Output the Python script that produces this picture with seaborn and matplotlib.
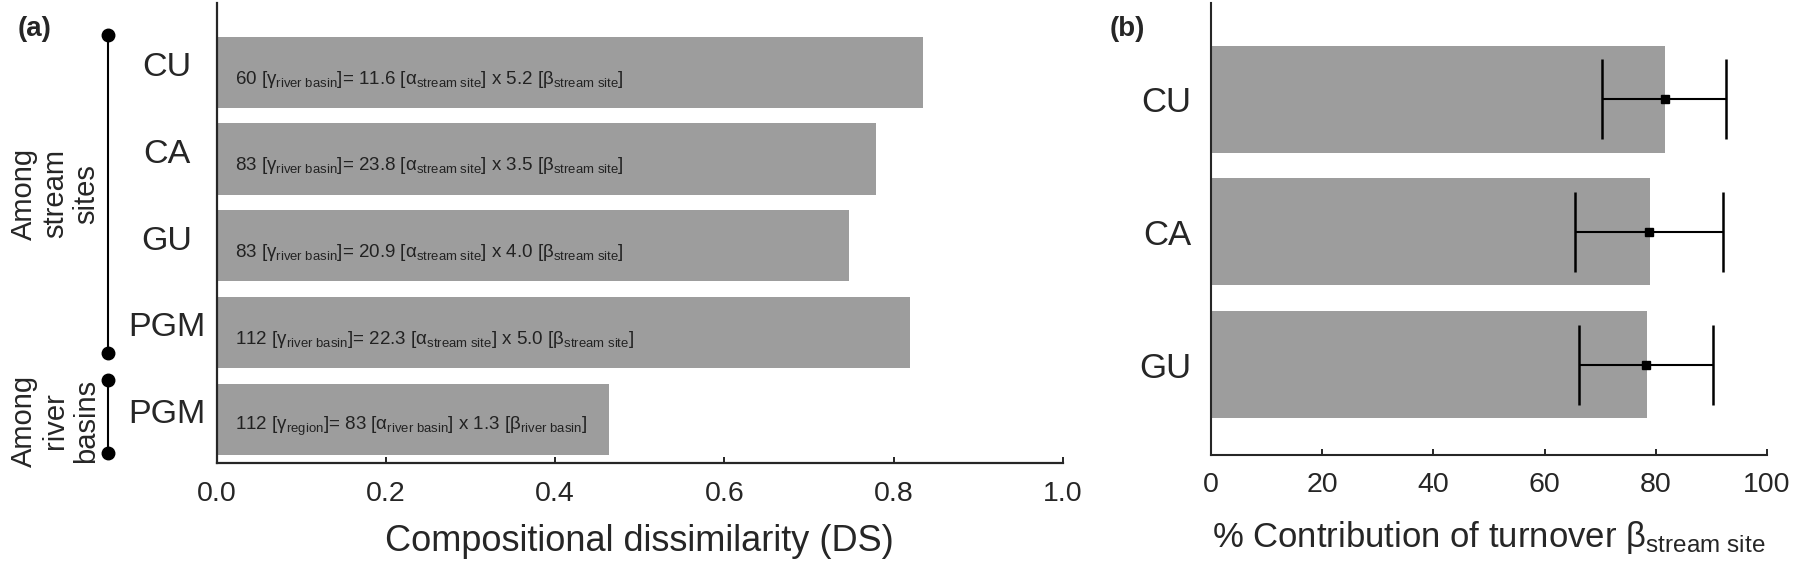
import matplotlib
matplotlib.use("Agg")
import matplotlib.pyplot as plt
import matplotlib.font_manager as fm
from matplotlib.transforms import ScaledTranslation, blended_transform_factory
import seaborn as sns
import pandas as pd
import numpy as np

# ---------------- data ----------------
cats_a = ["CU", "CA", "GU", "PGM", "PGM"]
ds_values = [0.834, 0.779, 0.747, 0.819, 0.463]
gamma_vals = ["60", "83", "83", "112", "112"]
alpha_vals = ["11.6", "23.8", "20.9", "22.3", "83"]
beta_vals = ["5.2", "3.5", "4.0", "5.0", "1.3"]
gamma_sub = ["river basin", "river basin", "river basin", "river basin", "region"]
ab_sub = ["stream site", "stream site", "stream site", "stream site", "river basin"]

cats_b = ["CU", "CA", "GU"]
turnover = [81.6, 79.0, 78.5]
turn_mean = [81.6, 78.7, 78.3]
ci_low = [70.4, 65.5, 66.1]
ci_high = [92.6, 92.0, 90.3]

xticks_a = [0.0, 0.2, 0.4, 0.6, 0.8, 1.0]
xticks_b = [0, 20, 40, 60, 80, 100]

# ---------------- style ----------------
sns.set_style("ticks")
names = {f.name for f in fm.fontManager.ttflist}
MAIN = "Liberation Sans" if "Liberation Sans" in names else "DejaVu Sans"
NARROW = "Liberation Sans Narrow" if "Liberation Sans Narrow" in names else MAIN
plt.rcParams["font.family"] = [MAIN, "DejaVu Sans"]
plt.rcParams["mathtext.fontset"] = "custom"
plt.rcParams["mathtext.rm"] = NARROW
plt.rcParams["mathtext.it"] = NARROW
plt.rcParams["mathtext.sf"] = MAIN

BAR = "#9d9d9d"
W, H = 1800, 568
fig = plt.figure(figsize=(18, 5.68), dpi=100)

def px_axes(l, r, t, b):
    return fig.add_axes([l / W, (H - b) / H, (r - l) / W, (b - t) / H])

def esc(s):
    return s.replace(" ", "\\ ")

# ---------------- panel (a) ----------------
ax = px_axes(216.7, 1063, 3, 462.7)
keys_a = [f"k{i}" for i in range(len(cats_a))]
dfa = pd.DataFrame({"key": keys_a, "DS": ds_values})
sns.barplot(data=dfa, x="DS", y="key", order=keys_a, orient="h", color=BAR,
            saturation=1, width=0.82, ax=ax, linewidth=0)
ax.set_xlim(0, 1.0)
ax.set_ylim(4.501, -0.798)
ax.set_xticks(xticks_a)
ax.set_xticklabels([f"{v:.1f}" for v in xticks_a])
ax.set_yticks(range(len(cats_a)))
ax.set_yticklabels(cats_a)
ax.set_ylabel("")
ax.set_xlabel("Compositional dissimilarity (DS)", fontsize=26, labelpad=12)
for s in ["top", "right"]:
    ax.spines[s].set_visible(False)
for s in ["left", "bottom"]:
    ax.spines[s].set_linewidth(1.6)
ax.tick_params(axis="x", direction="in", length=4, width=1.4, labelsize=20.5, pad=13.5)
ax.tick_params(axis="y", length=0, labelsize=24.5, pad=36)
for t in ax.get_yticklabels():
    t.set_horizontalalignment("center")
    t.set_transform(t.get_transform() + ScaledTranslation(0, 8 / 100, fig.dpi_scale_trans))

for i in range(len(cats_a)):
    label = (f"{gamma_vals[i]} [$\\mathrm{{γ_{{{esc(gamma_sub[i])}}}}}$]= "
             f"{alpha_vals[i]} [$\\mathrm{{α_{{{esc(ab_sub[i])}}}}}$] x "
             f"{beta_vals[i]} [$\\mathrm{{β_{{{esc(ab_sub[i])}}}}}$]")
    ax.text(0.022, i + 0.08, label, ha="left", va="center", fontsize=13.5,
            family=[NARROW, "DejaVu Sans"], color="#222222")

# group brackets
tr = blended_transform_factory(ax.transAxes, ax.transData)
bx = (108 - 216.7) / (1063 - 216.7)
for (y0, y1) in [(-0.43, 3.24), (3.55, 4.386)]:
    ax.plot([bx, bx], [y0, y1], color="black", lw=1.5, transform=tr, clip_on=False)
    ax.plot([bx, bx], [y0, y1], "o", color="black", ms=9, transform=tr, clip_on=False)

fig.text(55 / W, 1 - 194 / H, "Among\nstream\nsites", rotation=90, ha="center",
         va="center", multialignment="center", fontsize=21, linespacing=1.15)
fig.text(55 / W, 1 - 421 / H, "Among\nriver\nbasins", rotation=90, ha="center",
         va="center", multialignment="center", fontsize=21, linespacing=1.15)
fig.text(35 / W, 1 - 29 / H, "(a)", ha="center", va="center", fontsize=20, fontweight="bold")

# ---------------- panel (b) ----------------
bx_ = px_axes(1211, 1767, 3, 455)
keys_b = cats_b
dfb = pd.DataFrame({"key": keys_b, "turnover": turnover})
sns.barplot(data=dfb, x="turnover", y="key", order=keys_b, orient="h", color=BAR,
            saturation=1, width=0.807, ax=bx_, linewidth=0)
yb = np.arange(len(cats_b))
xerr = [np.array(turn_mean) - np.array(ci_low), np.array(ci_high) - np.array(turn_mean)]
bx_.errorbar(turn_mean, yb, xerr=xerr, fmt="s", color="black", ms=5.5, elinewidth=1.5,
             capsize=28.5, capthick=1.8, zorder=5)
bx_.set_xlim(0, 100)
bx_.set_ylim(2.682, -0.725)
bx_.set_xticks(xticks_b)
bx_.set_xticklabels([str(v) for v in xticks_b])
bx_.set_yticks(yb)
bx_.set_yticklabels(cats_b)
bx_.set_ylabel("")
bx_.set_xlabel("% Contribution of turnover $\\mathsf{β_{stream\\ site}}$", fontsize=25, labelpad=15)
for s in ["top", "right"]:
    bx_.spines[s].set_visible(False)
for s in ["left", "bottom"]:
    bx_.spines[s].set_linewidth(1.5)
bx_.tick_params(axis="x", direction="in", length=4, width=1.4, labelsize=20.5, pad=12)
bx_.tick_params(axis="y", length=0, labelsize=25, pad=14)
fig.text(1127 / W, 1 - 29 / H, "(b)", ha="center", va="center", fontsize=20, fontweight="bold")

fig.savefig("out.png", dpi=100, facecolor="white")
